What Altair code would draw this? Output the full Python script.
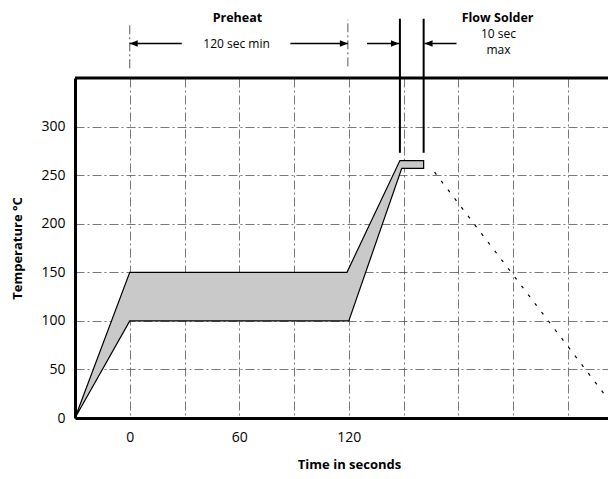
import altair as alt
import pandas as pd

# ---------------- data ----------------
# preheat / flow-solder band, polygon vertices in drawing order
band_t = [-30, 0, 119, 148, 161, 161, 149, 120, 0]
band_temp = [0, 150, 150, 265, 265, 257, 257, 100, 100]

# cooling (dashed) line
cool_t = [167, 270]
cool_temp = [253, 0]

# axes
x_grid = [0, 30, 60, 90, 120, 150, 180, 210, 240]
x_labels = [0, 60, 120]
y_ticks = [0, 50, 100, 150, 200, 250, 300]

# annotations above the plot (data units)
ann_text = ["Preheat", "120 sec min", "Flow Solder", "10 sec", "max"]
ann_t = [59, 58.5, 201.5, 202, 202]
ann_temp = [412, 385.5, 412, 395, 379]
ann_weight = ["bold", "normal", "bold", "normal", "normal"]

span_t = [0, 119.5]          # dash-dot markers of the preheat span
span_top = [406, 410]
span_bottom = [360, 362]

flow_t = [148, 161]          # solid flow solder window lines
flow_top = [411, 411]
flow_bottom = [273, 273]

arrow_tail = [28.5, 88, 130, 179]
arrow_head = [0, 119.5, 147.5, 161.5]
arrow_dir = ["left", "right", "right", "left"]
arrow_temp = [385.5, 385.5, 385.5, 385.5]

# ---------------- tables ----------------
band_df = pd.DataFrame({"t": band_t, "temp": band_temp, "i": list(range(len(band_t)))})
cool_df = pd.DataFrame({"t": cool_t, "temp": cool_temp})
ann_df = pd.DataFrame({"t": ann_t, "temp": ann_temp, "label": ann_text, "w": ann_weight})
span_df = pd.DataFrame({"t": span_t, "temp": span_bottom, "temp2": span_top})
flow_df = pd.DataFrame({"t": flow_t, "temp": flow_bottom, "temp2": flow_top})
arrow_df = pd.DataFrame({"t": arrow_tail, "t2": arrow_head, "temp": arrow_temp, "dir": arrow_dir})
top_df = pd.DataFrame({"t": [-30], "t2": [262], "temp": [350]})

FONT = "Open Sans"
xscale = alt.Scale(domain=[-30, 262], nice=False, zero=False)
yscale = alt.Scale(domain=[0, 350], nice=False, zero=True)

label_expr = " || ".join([f"datum.value == {v}" for v in x_labels])

x_axis = alt.Axis(
    values=x_grid, labelExpr=f"({label_expr}) ? datum.label : ''",
    title="Time in seconds", titleFont=FONT, titleFontSize=13, titleFontWeight="bold",
    titleColor="black", titleX=274, titlePadding=14,
    labelFont=FONT, labelFontSize=14, labelColor="black", labelPadding=12,
    ticks=False, grid=True, gridColor="#555", gridDash=[9, 3, 2, 3], gridWidth=0.8,
    domainColor="black", domainWidth=3,
)
y_axis = alt.Axis(
    values=y_ticks, title="Temperature °C", titleFont=FONT, titleFontSize=13,
    titleFontWeight="bold", titleColor="black", titlePadding=16,
    labelFont=FONT, labelFontSize=14, labelColor="black", labelPadding=10,
    ticks=False, grid=True, gridColor="#555", gridDash=[9, 3, 2, 3], gridWidth=0.8,
    domainColor="black", domainWidth=3,
)


def X(field):
    return alt.X(field, type="quantitative", scale=xscale, axis=x_axis)


def Y(field):
    return alt.Y(field, type="quantitative", scale=yscale, axis=y_axis)


band = alt.Chart(band_df).mark_line(
    fill="#c9c9c9", stroke="black", strokeWidth=1.2, interpolate="linear-closed"
).encode(x=X("t"), y=Y("temp"), order=alt.Order("i:Q"))

cool = alt.Chart(cool_df).mark_line(
    color="black", strokeWidth=1.2, strokeDash=[3, 8], clip=True
).encode(x=X("t"), y=Y("temp"))

top = alt.Chart(top_df).mark_rule(color="black", strokeWidth=3).encode(
    x=X("t"), x2="t2:Q", y=Y("temp")
)

span = alt.Chart(span_df).mark_rule(color="#444", strokeWidth=0.9, strokeDash=[9, 3, 2, 3]).encode(
    x=X("t"), y=Y("temp"), y2="temp2:Q"
)

flow = alt.Chart(flow_df).mark_rule(color="black", strokeWidth=2).encode(
    x=X("t"), y=Y("temp"), y2="temp2:Q"
)

arrow_lines = alt.Chart(arrow_df).mark_rule(color="black", strokeWidth=1.5).encode(
    x=X("t"), x2="t2:Q", y=Y("temp")
)

head_r = alt.Chart(arrow_df).transform_filter(alt.datum.dir == "right").mark_point(
    shape="M0,0L-2,-0.8L-2,0.8Z", filled=True, color="black", size=64, opacity=1
).encode(x=X("t2"), y=Y("temp"))

head_l = alt.Chart(arrow_df).transform_filter(alt.datum.dir == "left").mark_point(
    shape="M0,0L2,-0.8L2,0.8Z", filled=True, color="black", size=64, opacity=1
).encode(x=X("t2"), y=Y("temp"))

txt_bold = alt.Chart(ann_df).transform_filter(alt.datum.w == "bold").mark_text(
    font=FONT, fontSize=12.5, fontWeight="bold", color="black", baseline="middle"
).encode(x=X("t"), y=Y("temp"), text="label:N")

txt_norm = alt.Chart(ann_df).transform_filter(alt.datum.w == "normal").mark_text(
    font=FONT, fontSize=12, color="black", baseline="middle"
).encode(x=X("t"), y=Y("temp"), text="label:N")

chart = alt.layer(
    band, cool, top, span, flow, arrow_lines, head_r, head_l, txt_bold, txt_norm
).properties(
    width=533, height=340,
    autosize=alt.AutoSizeParams(type="none"),
    padding={"left": 67, "top": 70, "right": 0, "bottom": 55},
).configure_view(stroke=None).configure(background="white")

chart.save("out.html", embed_options={"renderer": "svg", "actions": False})
